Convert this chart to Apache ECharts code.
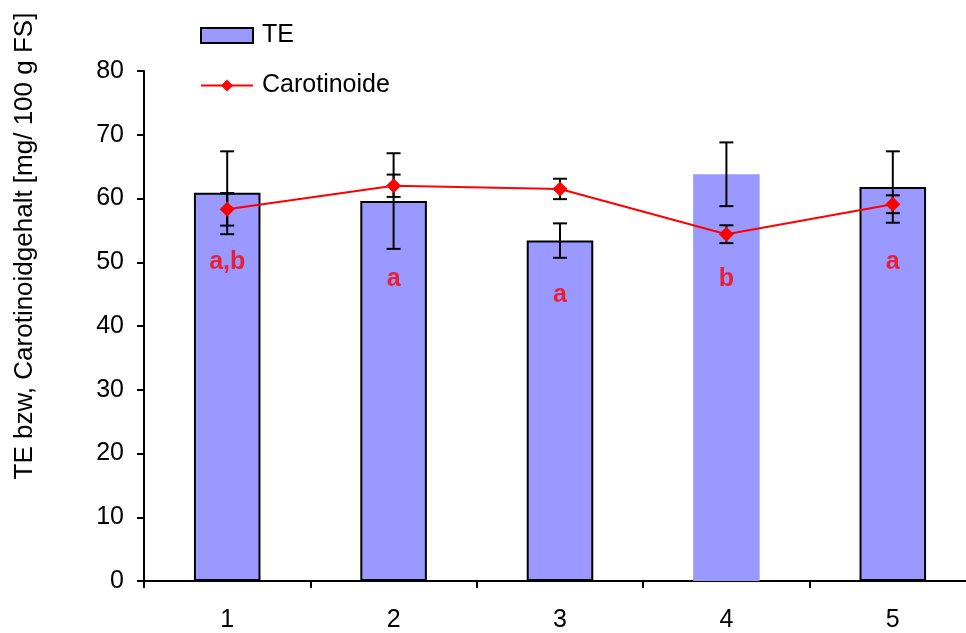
<!DOCTYPE html>
<html>
<head>
<meta charset="utf-8">
<script src="https://cdn.jsdelivr.net/npm/echarts@6/dist/echarts.min.js"></script>
<style>
html,body{margin:0;padding:0;background:#fff;}
#chart{width:966px;height:633px;}
</style>
</head>
<body>
<div id="chart"></div>
<script>
// ---- data ----
var categories = ['1', '2', '3', '4', '5'];
var teValues = [60.9, 59.6, 53.4, 63.8, 61.8];
var teErrors = [6.5, 7.5, 2.7, 5.0, 5.6];
var carValues = [58.3, 62.0, 61.5, 54.4, 59.1];
var carErrors = [2.55, 1.75, 1.6, 1.4, 1.4];
var groupLetters = ['a,b', 'a', 'a', 'b', 'a'];
var letterY = [50.0, 47.4, 44.8, 47.4, 50.0];
var yTicks = [0, 10, 20, 30, 40, 50, 60, 70, 80];

var FONT = '"Liberation Sans", Arial, sans-serif';

function errorSeries(name, values, errors, z) {
  return {
    type: 'custom',
    name: name,
    z: z,
    silent: true,
    renderItem: function (params, api) {
      var x = api.value(0);
      var lo = api.coord([x, api.value(1)]);
      var hi = api.coord([x, api.value(2)]);
      var w = 7;
      var st = { stroke: '#000', lineWidth: 2 };
      return {
        type: 'group',
        children: [
          { type: 'line', shape: { x1: lo[0], y1: lo[1], x2: hi[0], y2: hi[1] }, style: st },
          { type: 'line', shape: { x1: lo[0] - w, y1: lo[1], x2: lo[0] + w, y2: lo[1] }, style: st },
          { type: 'line', shape: { x1: hi[0] - w, y1: hi[1], x2: hi[0] + w, y2: hi[1] }, style: st }
        ]
      };
    },
    encode: { x: 0, y: [1, 2] },
    data: values.map(function (v, i) { return [i, v - errors[i], v + errors[i]]; }),
    tooltip: { show: false }
  };
}

var chart = echarts.init(document.getElementById('chart'), null, { renderer: 'canvas' });

var option = {
  animation: false,
  backgroundColor: '#fff',
  grid: { left: 144, top: 71, bottom: 52, width: 832, containLabel: false, outerBoundsMode: 'none' },
  legend: {
    orient: 'vertical',
    left: 195,
    top: 18,
    itemWidth: 52,
    itemHeight: 15,
    itemGap: 25,
    textStyle: { fontFamily: FONT, fontSize: 25, color: '#000', padding: [0, 0, 0, 4] },
    data: [
      { name: 'TE', icon: 'rect', itemStyle: { color: '#9999FF', borderColor: '#000', borderWidth: 2 } },
      { name: 'Carotinoide' }
    ]
  },
  xAxis: {
    type: 'category',
    data: categories,
    boundaryGap: true,
    axisLine: { lineStyle: { color: '#000', width: 2 } },
    axisTick: { show: true, length: 7, lineStyle: { color: '#000', width: 2 } },
    axisLabel: { color: '#000', fontFamily: FONT, fontSize: 25, margin: 27 },
    splitLine: { show: false }
  },
  yAxis: {
    type: 'value',
    min: yTicks[0],
    max: yTicks[yTicks.length - 1],
    interval: yTicks[1] - yTicks[0],
    axisLine: { show: true, lineStyle: { color: '#000', width: 2 } },
    axisTick: { show: true, length: 7, lineStyle: { color: '#000', width: 2 } },
    axisLabel: { color: '#000', fontFamily: FONT, fontSize: 25, margin: 20 },
    splitLine: { show: false }
  },
  graphic: [
    {
      type: 'text',
      x: 25,
      y: 246,
      rotation: Math.PI / 2,
      style: {
        text: 'TE bzw, Carotinoidgehalt [mg/ 100 g FS]',
        fontFamily: FONT,
        fontSize: 26,
        fill: '#000',
        align: 'center',
        verticalAlign: 'middle'
      }
    }
  ],
  series: [
    {
      name: 'TE',
      type: 'bar',
      barWidth: '40%',
      z: 1,
      itemStyle: { color: '#9999FF', borderColor: '#000', borderWidth: 2 },
      data: teValues.map(function (v, i) {
        return i === 3 ? { value: v, itemStyle: { borderWidth: 0 } } : v;
      })
    },
    errorSeries('TE_err', teValues, teErrors, 3),
    errorSeries('Car_err', carValues, carErrors, 4),
    {
      name: 'Carotinoide',
      type: 'line',
      z: 5,
      data: carValues,
      symbol: 'diamond',
      symbolSize: 15,
      lineStyle: { color: '#FF0000', width: 2 },
      itemStyle: { color: '#FF0000' }
    },
    {
      name: 'letters',
      type: 'scatter',
      z: 6,
      symbolSize: 0,
      silent: true,
      data: letterY.map(function (v, i) { return [i, v]; }),
      label: {
        show: true,
        position: 'inside',
        formatter: function (p) { return groupLetters[p.dataIndex]; },
        color: '#FF0000',
        fontFamily: FONT,
        fontWeight: 'bold',
        fontSize: 25
      }
    }
  ]
};
chart.setOption(option);
</script>
</body>
</html>
